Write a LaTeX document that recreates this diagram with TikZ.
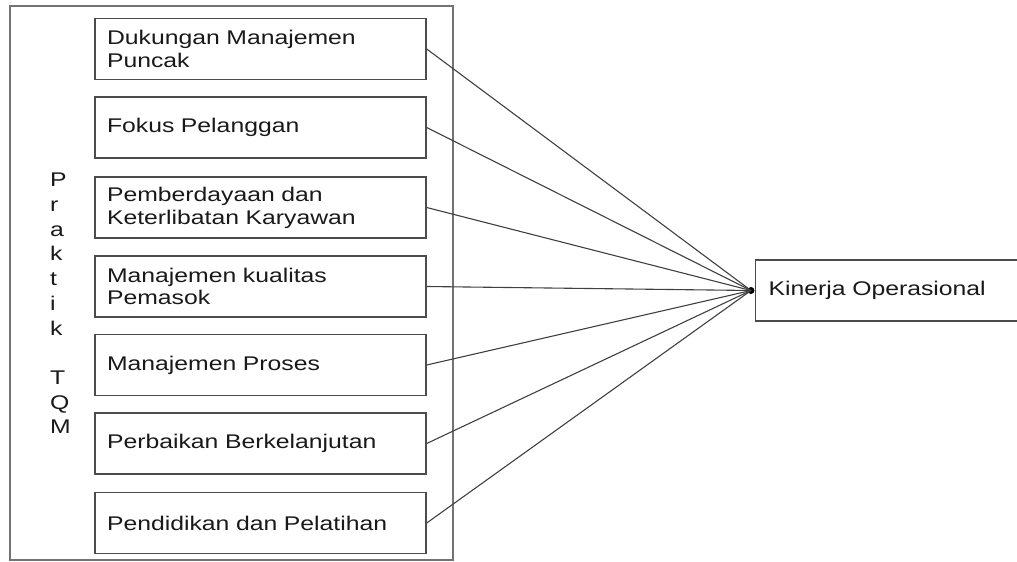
\documentclass[tikz,border=0pt]{standalone}
\usepackage{fontspec}
\setmainfont{Liberation Sans}[FakeStretch=1.25]
\usetikzlibrary{positioning}

\tikzset{
  faktor/.style={draw=black!70, line width=0.7pt, minimum width=165.5pt, minimum height=30.5pt,
    text width=153.5pt, inner xsep=6pt, align=left, text=black!90,
    font=\fontsize{9.9}{11.4}\selectfont},
  garis/.style={black!75, line width=0.55pt},
}

\begin{document}
\begin{tikzpicture}[x=0.5pt,y=-0.5pt]
\useasboundingbox (0,0) rectangle (1017,562);
\draw[black!55, line width=0.8pt] (10,6) rectangle (453,560);

\node[anchor=west, align=left, text=black!90, font=\fontsize{9.9}{12.35}\selectfont]
  (judul) at (43,303.5) {P\\r\\a\\k\\t\\i\\k\\[12.35pt]T\\Q\\M};

\foreach \y/\n/\teks in {49/b1/{Dukungan Manajemen\\Puncak},
                         127.5/b2/{Fokus Pelanggan},
                         207.5/b3/{Pemberdayaan dan\\Keterlibatan Karyawan},
                         286.5/b4/{Manajemen kualitas\\Pemasok},
                         365/b5/{Manajemen Proses},
                         443.5/b6/{Perbaikan Berkelanjutan},
                         523/b7/{Pendidikan dan Pelatihan}}
  \node[faktor] (\n) at (260.5,\y) {\teks};

\node[faktor, anchor=west, minimum width=150pt, text width=137pt, inner xsep=6.5pt]
  (kinerja) at (755,290.5) {Kinerja Operasional};
\node[circle, fill=black, inner sep=0pt, minimum size=3.5pt] (hub) at ([xshift=-2pt]kinerja.west) {};

\foreach \n in {b1,b2,b3,b4,b5,b6,b7}
  \draw[garis] (\n.east) -- (hub.center);
\end{tikzpicture}
\end{document}
